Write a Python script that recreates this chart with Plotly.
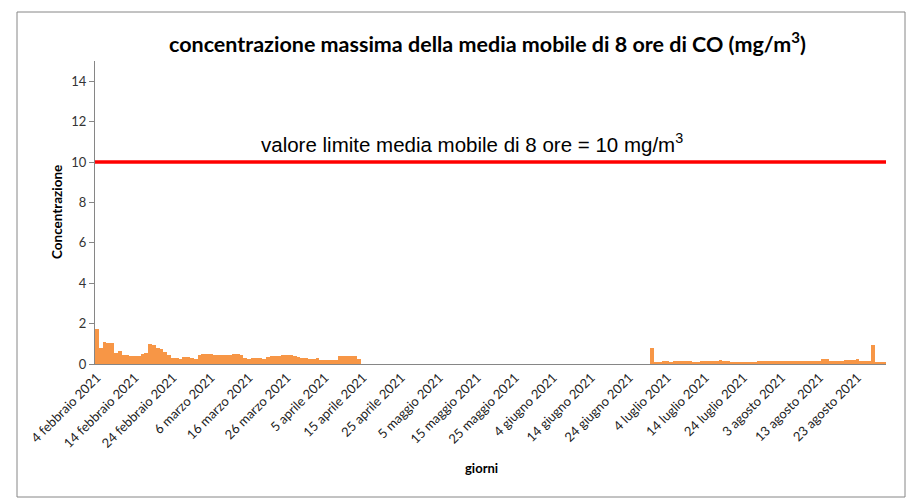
import pandas as pd
import plotly.graph_objects as go

# ---- data ----
start_1 = "2021-02-04"
values_1 = [1.72, 0.78, 1.09, 1.02, 1.02, 0.54, 0.64, 0.45, 0.45, 0.38,
            0.38, 0.42, 0.51, 0.56, 0.99, 0.95, 0.78, 0.75, 0.58, 0.45,
            0.30, 0.30, 0.27, 0.35, 0.35, 0.32, 0.27, 0.45, 0.51, 0.51,
            0.48, 0.45, 0.45, 0.45, 0.45, 0.45, 0.50, 0.48, 0.45, 0.31,
            0.27, 0.30, 0.31, 0.31, 0.27, 0.35, 0.40, 0.40, 0.40, 0.43,
            0.47, 0.45, 0.38, 0.33, 0.31, 0.28, 0.25, 0.23, 0.28, 0.22,
            0.20, 0.20, 0.20, 0.20, 0.38, 0.38, 0.38, 0.38, 0.38, 0.25]
start_2 = "2021-06-30"
values_2 = [0.78, 0.10, 0.10, 0.17, 0.17, 0.10, 0.17, 0.17, 0.14, 0.14,
            0.14, 0.12, 0.12, 0.14, 0.14, 0.14, 0.14, 0.17, 0.20, 0.17,
            0.14, 0.12, 0.12, 0.12, 0.12, 0.12, 0.12, 0.12, 0.14, 0.17,
            0.17, 0.17, 0.17, 0.17, 0.17, 0.17, 0.17, 0.14, 0.17, 0.17,
            0.17, 0.17, 0.17, 0.17, 0.17, 0.25, 0.25, 0.14, 0.14, 0.14,
            0.14, 0.20, 0.20, 0.22, 0.25, 0.17, 0.17, 0.17, 0.94, 0.12,
            0.12, 0.12]
limit_value = 10
tick_dates = ["2021-02-04", "2021-02-14", "2021-02-24", "2021-03-06", "2021-03-16",
              "2021-03-26", "2021-04-05", "2021-04-15", "2021-04-25", "2021-05-05",
              "2021-05-15", "2021-05-25", "2021-06-04", "2021-06-14", "2021-06-24",
              "2021-07-04", "2021-07-14", "2021-07-24", "2021-08-03", "2021-08-13",
              "2021-08-23"]
tick_labels = ["4 febbraio 2021", "14 febbraio 2021", "24 febbraio 2021", "6 marzo 2021",
               "16 marzo 2021", "26 marzo 2021", "5 aprile 2021", "15 aprile 2021",
               "25 aprile 2021", "5 maggio 2021", "15 maggio 2021", "25 maggio 2021",
               "4 giugno 2021", "14 giugno 2021", "24 giugno 2021", "4 luglio 2021",
               "14 luglio 2021", "24 luglio 2021", "3 agosto 2021", "13 agosto 2021",
               "23 agosto 2021"]

dates = list(pd.date_range(start_1, periods=len(values_1), freq="D")) + \
        list(pd.date_range(start_2, periods=len(values_2), freq="D"))
values = values_1 + values_2

x_min = pd.Timestamp("2021-02-03 12:00")
x_max = pd.Timestamp("2021-08-30 12:00")

fig = go.Figure()
fig.add_trace(go.Bar(x=dates, y=values, marker=dict(color="#F79646", line=dict(width=0)),
                     width=86400000, showlegend=False))
fig.add_trace(go.Scatter(x=[x_min, x_max], y=[limit_value, limit_value], mode="lines",
                         line=dict(color="#FF0000", width=3.5), showlegend=False))

# page body has an 8px margin; target screen coordinates are shifted by OFF
OFF = 8
W, H = 915, 500
pl, pr, pt, pb = 95, 886, 61, 364          # plot area in screen px
ml, mt = pl - OFF, pt - OFF
pw, ph = pr - pl, pb - pt
mr, mb = W - ml - pw, H - mt - ph

def px(x):
    return (x - OFF - ml) / pw

def py(y):
    return (mt + ph - (y - OFF)) / ph

FONT = "Lato, Carlito, sans-serif"

fig.update_layout(
    width=W, height=H,
    margin=dict(l=ml, r=mr, t=mt, b=mb, autoexpand=False),
    paper_bgcolor="white", plot_bgcolor="white",
    bargap=0,
    font=dict(family=FONT, color="#000000"),
    xaxis=dict(type="date", range=[x_min, x_max], tickmode="array",
               tickvals=[pd.Timestamp(d) for d in tick_dates], ticktext=tick_labels,
               tickangle=-45, tickfont=dict(size=13, family=FONT, color="#222"),
               showline=True, linecolor="#868686", linewidth=1, showgrid=False,
               ticks="", zeroline=False),
    yaxis=dict(range=[0, 15], tickvals=list(range(0, 15, 2)),
               tickfont=dict(size=13, family=FONT, color="#333"),
               showline=True, linecolor="#868686", linewidth=1, showgrid=False,
               ticks="outside", ticklen=5, tickcolor="#868686", zeroline=False),
    annotations=[
        dict(text="<b>concentrazione massima della media mobile di 8 ore di CO (mg/m<sup>3</sup>)</b>",
             xref="paper", yref="paper", x=px(487), y=py(42),
             xanchor="center", yanchor="middle", showarrow=False,
             font=dict(size=21.5, family=FONT, color="#000")),
        dict(text="valore limite media mobile di 8 ore = 10 mg/m<sup>3</sup>",
             xref="paper", yref="paper", x=px(472), y=py(143),
             xanchor="center", yanchor="middle", showarrow=False,
             font=dict(size=20.5, family="Liberation Sans, Arial, sans-serif", color="#000")),
        dict(text="<b>Concentrazione</b>", textangle=-90,
             xref="paper", yref="paper", x=px(57), y=py(212),
             xanchor="center", yanchor="middle", showarrow=False,
             font=dict(size=13.5, family=FONT, color="#000")),
        dict(text="<b>giorni</b>",
             xref="paper", yref="paper", x=px(481), y=py(468),
             xanchor="center", yanchor="middle", showarrow=False,
             font=dict(size=13, family=FONT, color="#000")),
    ],
    shapes=[dict(type="rect", xref="paper", yref="paper",
                 x0=px(17), x1=px(905), y0=py(497), y1=py(12),
                 line=dict(color="#868686", width=1), fillcolor="rgba(0,0,0,0)", layer="below"),
            dict(type="line", xref="paper", yref="paper",
                 x0=px(5), x1=px(5), y0=py(500), y1=py(0),
                 line=dict(color="#BBBBBB", width=1))],
)

fig.write_html("out.html")
